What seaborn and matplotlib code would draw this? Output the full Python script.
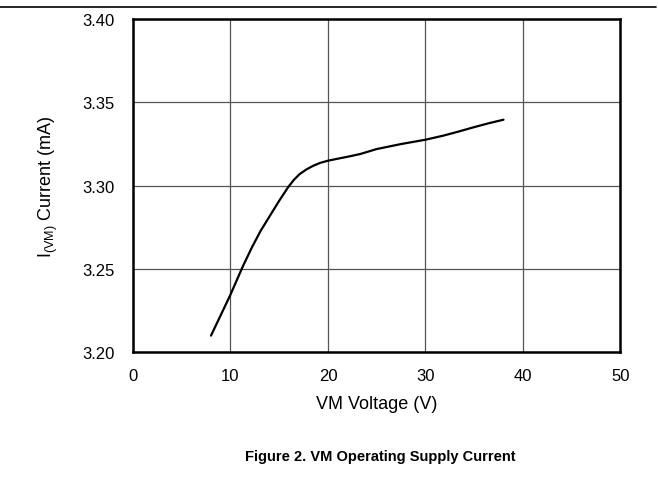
import matplotlib
matplotlib.use("Agg")
import matplotlib.pyplot as plt
import seaborn as sns
import pandas as pd

# data
voltage = [8.0, 9.95, 11.3, 12.2, 13.1, 14.05, 15.0, 15.9, 16.5, 17.1, 17.8, 18.5, 19.2, 20.0, 21.0, 22.2, 23.3, 25.0, 27.5, 30.0, 31.8, 33.4, 34.9, 36.5, 38.0]
current = [3.210, 3.234, 3.252, 3.263, 3.273, 3.282, 3.291, 3.299, 3.3035, 3.307, 3.3098, 3.312, 3.3137, 3.315, 3.3162, 3.3176, 3.319, 3.322, 3.325, 3.3276, 3.330, 3.3325, 3.335, 3.3375, 3.3396]
x_ticks = [0, 10, 20, 30, 40, 50]
y_ticks = [3.20, 3.25, 3.30, 3.35, 3.40]

df = pd.DataFrame({"VM Voltage (V)": voltage, "Current": current})

sns.set_theme(style="white")
plt.rcParams['font.family'] = ['Liberation Sans', 'DejaVu Sans']
plt.rcParams['mathtext.fontset'] = 'custom'
plt.rcParams['mathtext.rm'] = 'Liberation Sans'

fig = plt.figure(figsize=(6.58, 5.02), dpi=100)
ax = fig.add_axes([0.2021, 0.2962, 0.7409, 0.6638])

sns.lineplot(data=df, x="VM Voltage (V)", y="Current", ax=ax,
             color="black", linewidth=1.6, sort=False)

ax.set_xlim(0, 50)
ax.set_ylim(3.20, 3.40)
ax.set_xticks(x_ticks)
ax.set_yticks(y_ticks)
ax.set_xticklabels([str(t) for t in x_ticks])
ax.set_yticklabels(["%.2f" % t for t in y_ticks])
ax.tick_params(axis="both", length=0, labelsize=12, colors="black")
ax.tick_params(axis="y", pad=13)
ax.tick_params(axis="x", pad=11)
ax.grid(True, color="#555555", linewidth=0.9)
for s in ax.spines.values():
    s.set_color("black")
    s.set_linewidth(1.8)

ax.set_xlabel("VM Voltage (V)", fontsize=13, color="black", labelpad=9)
ax.set_ylabel(r"I$_{\mathregular{(VM)}}$ Current (mA)", fontsize=13, color="black", labelpad=16)

# top rule and caption
fig.add_artist(plt.Line2D([0.0, 0.997], [0.984, 0.984], color="black", linewidth=1.2, transform=fig.transFigure))
fig.text(0.578, 0.089, "Figure 2. VM Operating Supply Current", ha="center", va="center",
         fontsize=10.5, fontweight="bold", color="black")

fig.savefig("out.png", dpi=100)
